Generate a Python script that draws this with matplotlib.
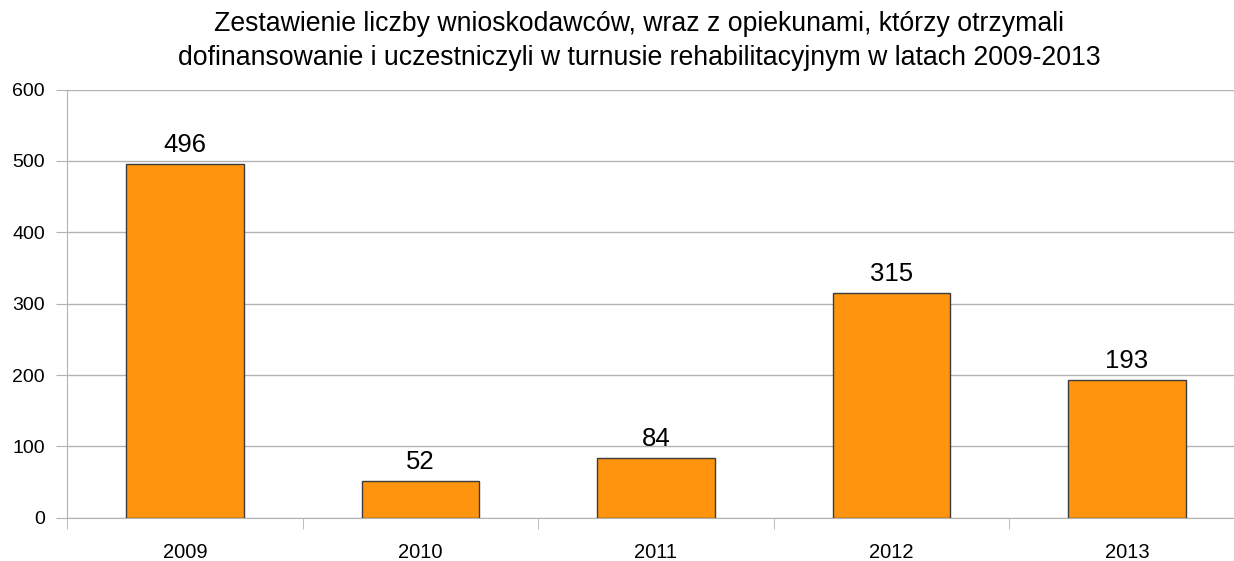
import matplotlib
matplotlib.use('Agg')
import matplotlib.pyplot as plt
import numpy as np

# Datos
years = ['2009', '2010', '2011', '2012', '2013']
values = [496, 52, 84, 315, 193]
yticks = [0, 100, 200, 300, 400, 500, 600]

plt.rcParams['font.family'] = ['Liberation Sans', 'DejaVu Sans']

fig = plt.figure(figsize=(12.34, 5.61), dpi=100)
ax = fig.add_axes([0.0545, 0.0772, 0.9542, 0.7630])

x = np.arange(len(years))
bars = ax.bar(x, values, width=0.5, color='#ff950e', edgecolor='#3c3c3c', linewidth=1, zorder=3)

# Etiquetas de valores
for xi, v in zip(x, values):
    ax.annotate(str(v), (xi, v), xytext=(0, 5), textcoords='offset points',
                ha='center', va='bottom', fontsize=18.5)

ax.set_xlim(-0.5, len(years) - 0.5)
ax.set_ylim(0, 600)
ax.set_yticks(yticks)
ax.set_yticklabels([str(t) for t in yticks], fontsize=14)
ax.set_xticks(x)
ax.set_xticklabels(years, fontsize=14.5)
ax.set_xticks(np.arange(len(years) + 1) - 0.5, minor=True)

ax.grid(axis='y', color='#b3b3b3', linewidth=1, zorder=0)
ax.tick_params(axis='y', length=8, color='#b3b3b3', pad=8)
ax.tick_params(axis='x', which='major', length=0, pad=18)
ax.tick_params(axis='x', which='minor', length=8, color='#b3b3b3')

for s in ['top', 'right']:
    ax.spines[s].set_visible(False)
for s in ['left', 'bottom']:
    ax.spines[s].set_color('#b3b3b3')

fig.text(639 / 1234, 1 - 41 / 561,
         'Zestawienie liczby wnioskodawców, wraz z opiekunami, którzy otrzymali\n'
         'dofinansowanie i uczestniczyli w turnusie rehabilitacyjnym w latach 2009-2013',
         ha='center', va='center', fontsize=19.2, linespacing=1.4)

fig.savefig('out.png', dpi=100)
